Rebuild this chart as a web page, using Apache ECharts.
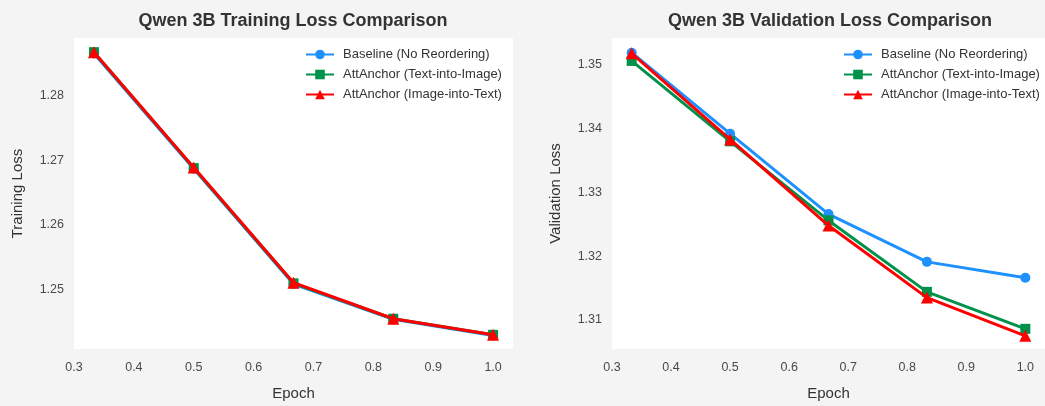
<!DOCTYPE html>
<html>
<head>
<meta charset="utf-8">
<script src="https://cdn.jsdelivr.net/npm/echarts@6/dist/echarts.min.js"></script>
<style>
html,body{margin:0;padding:0;background:#f4f4f4;}
#chart{width:1045px;height:406px;}
</style>
</head>
<body>
<div id="chart"></div>
<script>
// ---- data ----
const epochs = [1/3, 0.5, 2/3, 5/6, 1.0];
const seriesNames = ['Baseline (No Reordering)', 'AttAnchor (Text-into-Image)', 'AttAnchor (Image-into-Text)'];
const trainBaseline = [1.2866, 1.2687, 1.2508, 1.2453, 1.2428];
const trainTextIntoImage = [1.2868, 1.2688, 1.2509, 1.2454, 1.2429];
const trainImageIntoText = [1.2868, 1.2689, 1.2510, 1.2454, 1.2429];
const valBaseline = [1.3519, 1.3392, 1.3266, 1.3191, 1.3166];
const valTextIntoImage = [1.3506, 1.3380, 1.3256, 1.3144, 1.3086];
const valImageIntoText = [1.3518, 1.3383, 1.3248, 1.3135, 1.3075];
const xTicks = [0.3, 0.4, 0.5, 0.6, 0.7, 0.8, 0.9, 1.0];
const trainYTicks = [1.25, 1.26, 1.27, 1.28];
const valYTicks = [1.31, 1.32, 1.33, 1.34, 1.35];
const titles = ['Qwen 3B Training Loss Comparison', 'Qwen 3B Validation Loss Comparison'];
const yNames = ['Training Loss', 'Validation Loss'];

const colors = ['#1E90FF', '#00924A', '#FF0000'];
const symbols = ['circle', 'rect', 'triangle'];
const symbolSizes = [10, 10, 12];
const FONT = 'Liberation Sans';

function pairs(ys) { return epochs.map((x, i) => [x, ys[i]]); }

const grids = [
  {left: 74, top: 38, width: 439, height: 313, backgroundColor: '#ffffff', show: true, borderWidth: 0},
  {left: 612, top: 38, width: 437, height: 313, backgroundColor: '#ffffff', show: true, borderWidth: 0}
];

function xAxis(gi) {
  return {
    type: 'value', gridIndex: gi, min: 0.3, max: 1.0333,
    name: 'Epoch', nameLocation: 'middle', nameGap: 37,
    nameTextStyle: {fontFamily: FONT, fontSize: 15, color: '#333'},
    axisLine: {show: false}, axisTick: {show: false}, splitLine: {show: false},
    axisLabel: {customValues: xTicks, fontFamily: FONT, fontSize: 12.5, color: '#4a4a4a', margin: 12,
      formatter: v => v.toFixed(1)}
  };
}
function yAxis(gi, min, max, ticks, name) {
  return {
    type: 'value', gridIndex: gi, min: min, max: max,
    name: name, nameLocation: 'middle', nameGap: 49, nameRotate: 90,
    nameTextStyle: {fontFamily: FONT, fontSize: 15, color: '#333'},
    axisLine: {show: false}, axisTick: {show: false}, splitLine: {show: false},
    axisLabel: {customValues: ticks, fontFamily: FONT, fontSize: 12.5, color: '#4a4a4a', margin: 10,
      formatter: v => v.toFixed(2)}
  };
}

function mkSeries(gi, datas) {
  return datas.map((d, i) => ({
    name: seriesNames[i], type: 'line', xAxisIndex: gi, yAxisIndex: gi,
    data: pairs(d), symbol: symbols[i], symbolSize: symbolSizes[i],
    lineStyle: {color: colors[i], width: 3}, itemStyle: {color: colors[i]},
    showSymbol: true, animation: false, z: 2 + i
  }));
}

function legend(left) {
  return {
    left: left, top: 48, padding: 0, orient: 'vertical', itemWidth: 28, itemHeight: 12, itemGap: 7,
    data: seriesNames, textStyle: {fontFamily: FONT, fontSize: 13, color: '#333', padding: [0, 0, 0, 4]},
    selectedMode: false
  };
}

const option = {
  backgroundColor: '#f4f4f4',
  animation: false,
  title: [
    {text: titles[0], left: 288, top: 7, textAlign: 'center',
      textStyle: {fontFamily: FONT, fontSize: 18, fontWeight: 'bold', color: '#333'}},
    {text: titles[1], left: 825, top: 7, textAlign: 'center',
      textStyle: {fontFamily: FONT, fontSize: 18, fontWeight: 'bold', color: '#333'}}
  ],
  grid: grids,
  xAxis: [xAxis(0), xAxis(1)],
  yAxis: [yAxis(0, 1.2407, 1.2890, trainYTicks, yNames[0]), yAxis(1, 1.30544, 1.3542, valYTicks, yNames[1])],
  legend: [legend(305), legend(843)],
  series: [].concat(
    mkSeries(0, [trainBaseline, trainTextIntoImage, trainImageIntoText]),
    mkSeries(1, [valBaseline, valTextIntoImage, valImageIntoText])
  )
};

const chart = echarts.init(document.getElementById('chart'), null, {renderer: 'canvas'});
chart.setOption(option);
</script>
</body>
</html>
